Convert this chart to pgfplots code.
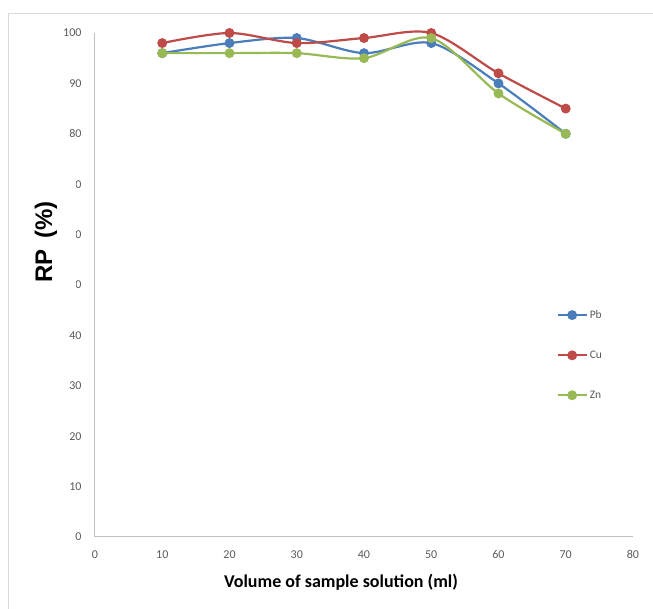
\documentclass[border=0pt]{standalone}
\usepackage{pgfplots}
\pgfplotsset{compat=1.18}
\usepackage{fontspec}
\setmainfont{Carlito}
\newfontfamily\arialfont{Liberation Sans}

\definecolor{pbblue}{RGB}{74,126,187}
\definecolor{cured}{RGB}{190,75,72}
\definecolor{zngreen}{RGB}{152,185,84}
\definecolor{axisgray}{RGB}{191,191,191}
\definecolor{ticktext}{RGB}{89,89,89}
\definecolor{framegray}{RGB}{217,217,217}

\pgfplotstableread{
vol  Pb   Cu   Zn
10   96   98   96
20   98   100  96
30   99   98   96
40   96   99   95
50   98   100  99
60   90   92   88
70   80   85   80
}\rpdata

\begin{document}
\begin{tikzpicture}
\path[use as bounding box] (-95pt,-72pt) rectangle (558pt,537pt);
% chart frame (top and left edges)
\draw[framegray, line width=0.8pt] (-87pt,-72pt) -- (-87pt,524pt) -- (558pt,524pt);
\begin{axis}[
  at={(0pt,0pt)}, anchor=south west,
  scale only axis, width=538pt, height=504pt,
  xmin=0, xmax=80, ymin=0, ymax=100,
  xtick={0,10,...,80}, ytick={0,10,...,100},
  axis lines=left,
  axis line style={axisgray, line width=1pt, -},
  major tick length=0pt,
  tick label style={font=\fontsize{12}{14}\selectfont, text=ticktext},
  xticklabel style={yshift=-10pt},
  yticklabel style={xshift=-10pt},
  /pgf/number format/assume math mode=true,
  clip=false,
  legend cell align=left,
  legend style={at={(0.852,0.458)}, anchor=north west, draw=none, fill=none,
    font=\fontsize{11.5}{13}\selectfont, text=ticktext,
    row sep=27pt},
  legend image code/.code={%
    \draw[mark repeat=2, mark phase=2, #1] plot coordinates {(0pt,0pt) (14.5pt,0pt) (29pt,0pt)};},
  every axis plot/.append style={line width=2.2pt, mark=*, mark size=3.8pt, smooth, tension=0.5},
]
\addplot[pbblue, mark options={fill=pbblue, draw=pbblue}] table[x=vol, y=Pb] {\rpdata};
\addlegendentry{Pb}
\addplot[cured, mark options={fill=cured, draw=cured}] table[x=vol, y=Cu] {\rpdata};
\addlegendentry{Cu}
\addplot[zngreen, mark options={fill=zngreen, draw=zngreen}] table[x=vol, y=Zn] {\rpdata};
\addlegendentry{Zn}
\end{axis}
% axis titles
\fill[white] (-78pt,248pt) rectangle (-19pt,359pt);
\node[rotate=90, font=\arialfont\bfseries\fontsize{24}{28}\selectfont] at (-49pt,295pt) {RP\,\ (\%)};
\node[font=\bfseries\fontsize{18}{21}\selectfont] at (246pt,-45pt) {Volume of sample solution (ml)};
\end{tikzpicture}
\end{document}
